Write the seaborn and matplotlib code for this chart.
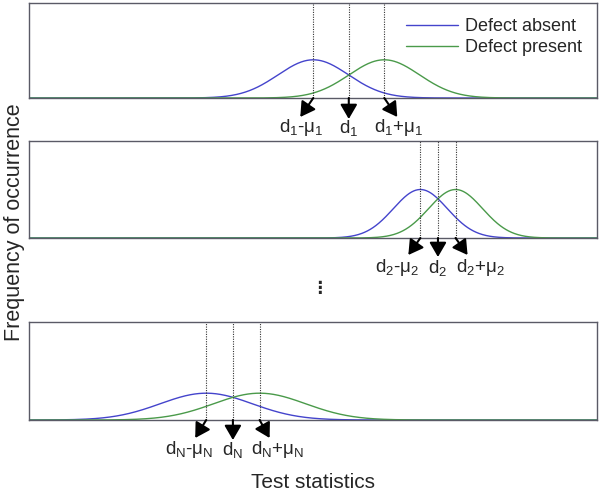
import numpy as np
import pandas as pd
import matplotlib.pyplot as plt
import matplotlib.transforms as mtransforms
import seaborn as sns

# Parameters (x axis scaled 0..10)
panels = ["1", "2", "N"]
d_vals = [5.63, 7.20, 3.59]      # decision thresholds
mu_vals = [0.625, 0.31, 0.47]    # half the distance between the two peaks
sigma_vals = [0.62, 0.475, 0.81]
y_tops = [1.60, 1.68, 1.80]
conditions = ["Defect absent", "Defect present"]
colors = ["#4444cc", "#4a9a4a"]

sns.set_style("white")
plt.rcParams["font.family"] = ["Liberation Sans", "DejaVu Sans"]
plt.rcParams["mathtext.fontset"] = "custom"
plt.rcParams["mathtext.rm"] = "Liberation Sans"
plt.rcParams["mathtext.it"] = "Liberation Sans"

fig = plt.figure(figsize=(6, 4.96), dpi=100)
W, H = 600, 496
boxes = [(3, 98), (141, 238), (322, 420)]  # top, bottom in pixels
left, right = 29, 597

# label offsets (px) and arrow tips (px) for the three arrows in each panel
label_dx = [(-12, 0, 14), (-23, 0, 25), (-17, 0, 18)]
arrow_tip = [((-13, -19), (0, -21), (13, -19)),
             ((-12, -17), (0, -19), (12, -17)),
             ((-11, -18), (0, -20), (10, -18))]

x = np.linspace(0, 10, 800)
for i, p in enumerate(panels):
    top, bot = boxes[i]
    ax = fig.add_axes([left / W, 1 - bot / H, (right - left) / W, (bot - top) / H])
    d, m, s = d_vals[i], mu_vals[i], sigma_vals[i]
    rows = []
    for cond, centre in zip(conditions, [d - m, d + m]):
        y = np.exp(-0.5 * ((x - centre) / s) ** 2) / (s * np.sqrt(2 * np.pi))
        rows.append(pd.DataFrame({"x": x, "y": y, "cond": cond}))
    df = pd.concat(rows)
    sns.lineplot(data=df, x="x", y="y", hue="cond", palette=colors,
                 linewidth=1, ax=ax, legend=(i == 0))
    ax.set_xlim(0, 10)
    ax.set_ylim(0, y_tops[i])
    ax.set_xticks([])
    ax.set_yticks([])
    ax.set_xlabel("")
    ax.set_ylabel("")
    for sp in ax.spines.values():
        sp.set_color("#5a5a66")
        sp.set_linewidth(1)

    marks = [d - m, d, d + m]
    labels = [r"$\mathrm{d_%s}$-$\mathrm{\mu_%s}$" % (p, p),
              r"$\mathrm{d_%s}$" % p,
              r"$\mathrm{d_%s}$+$\mathrm{\mu_%s}$" % (p, p)]
    for k, xm in enumerate(marks):
        ax.axvline(xm, color="#333333", linestyle=(0, (1, 1.2)), linewidth=0.8)
        dx, dy = arrow_tip[i][k]
        tip = ax.transData + mtransforms.ScaledTranslation(dx / 100, dy / 100, fig.dpi_scale_trans)
        ax.annotate("", xy=(xm, 0), xycoords=tip, xytext=(xm, 0), textcoords="data",
                    arrowprops=dict(arrowstyle="-|>,head_length=0.55,head_width=0.32",
                                    color="black", lw=1.5, mutation_scale=16,
                                    shrinkA=0, shrinkB=0),
                    annotation_clip=False)
        lab = ax.transData + mtransforms.ScaledTranslation(label_dx[i][k] / 100, -0.30, fig.dpi_scale_trans)
        ax.text(xm, 0, labels[k], transform=lab, ha="center", va="center", fontsize=13.5)

    if i == 0:
        ax.legend(loc="upper right", frameon=False, fontsize=13,
                  handlelength=2.9, handletextpad=0.35, labelspacing=0.2,
                  borderaxespad=0.45)

fig.text(319 / W, 1 - 288 / H, "\u22ee", ha="center", va="center",
         fontsize=12, fontweight="bold", family="DejaVu Sans")
fig.text(313 / W, 1 - 482 / H, "Test statistics", ha="center", va="center", fontsize=15)
fig.text(15 / W, 1 - 222 / H, "Frequency of occurrence", ha="center", va="center",
         rotation=90, fontsize=15.5)

fig.savefig("out.png", dpi=100)
